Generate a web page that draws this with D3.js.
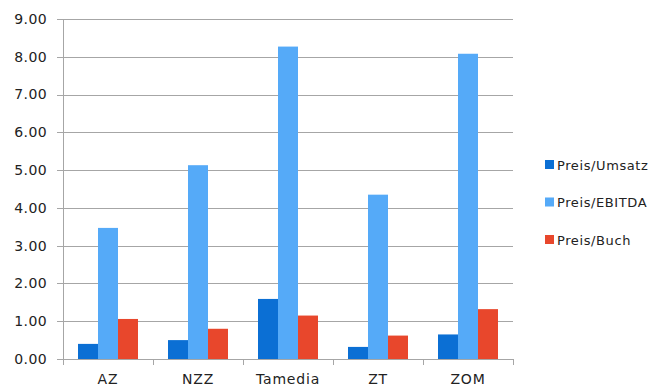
<!DOCTYPE html>
<html>
<head>
<meta charset="utf-8">
<script src="https://cdn.jsdelivr.net/npm/d3@7"></script>
<style>
  body { margin: 0; background: #fff; }
  text { font-family: "DejaVu Sans", Verdana, sans-serif; fill: #222; }
</style>
</head>
<body>
<div id="chart"></div>
<script>
const categories = ['AZ', 'NZZ', 'Tamedia', 'ZT', 'ZOM'];
const seriesNames = ['Preis/Umsatz', 'Preis/EBITDA', 'Preis/Buch'];
const umsatz = [0.40, 0.50, 1.59, 0.32, 0.65];
const ebitda = [3.47, 5.13, 8.27, 4.35, 8.08];
const buch = [1.06, 0.80, 1.15, 0.62, 1.32];
const yTicks = [0, 1, 2, 3, 4, 5, 6, 7, 8, 9];
const colors = ['#0b6fd4', '#55aaf8', '#e8472c'];

const width = 661, height = 392;
const margin = {top: 19, right: 148, bottom: 33, left: 63};

let svg = d3.select('#chart').append('svg')
    .attr('width', width)
    .attr('height', height);

let x = d3.scaleBand()
    .domain(categories)
    .range([margin.left, width - margin.right]);

let xInner = d3.scaleBand()
    .domain(seriesNames)
    .range([0, x.bandwidth()])
    .paddingOuter(0.75);

let y = d3.scaleLinear()
    .domain([0, 9])
    .range([height - margin.bottom, margin.top]);

// gridlines
svg.append('g')
    .selectAll('line')
    .data(yTicks)
    .enter()
    .append('line')
    .attr('x1', margin.left - 6)
    .attr('x2', width - margin.right)
    .attr('y1', d => Math.round(y(d)) + 0.5)
    .attr('y2', d => Math.round(y(d)) + 0.5)
    .attr('stroke', '#a6a6a6');

// y labels
svg.append('g')
    .selectAll('text')
    .data(yTicks)
    .enter()
    .append('text')
    .attr('x', margin.left - 16)
    .attr('y', d => y(d))
    .attr('dy', '0.35em')
    .attr('text-anchor', 'end')
    .style('font-size', '14px')
    .style('letter-spacing', '0.4px')
    .text(d => d.toFixed(2));

// y axis line
svg.append('line')
    .attr('x1', margin.left + 0.5)
    .attr('x2', margin.left + 0.5)
    .attr('y1', y(9))
    .attr('y2', y(0) + 6)
    .attr('stroke', '#a6a6a6');

// x axis ticks
let xEdges = categories.map(c => x(c)).concat([x(categories[categories.length - 1]) + x.bandwidth()]);
svg.append('g')
    .selectAll('line')
    .data(xEdges)
    .enter()
    .append('line')
    .attr('x1', d => Math.round(d) + 0.5)
    .attr('x2', d => Math.round(d) + 0.5)
    .attr('y1', y(0))
    .attr('y2', y(0) + 6)
    .attr('stroke', '#a6a6a6');

// bars
const series = [umsatz, ebitda, buch];
series.forEach((vals, si) => {
    svg.append('g')
        .selectAll('rect')
        .data(vals)
        .enter()
        .append('rect')
        .attr('x', (d, i) => x(categories[i]) + xInner(seriesNames[si]))
        .attr('width', xInner.bandwidth())
        .attr('y', d => y(d))
        .attr('height', d => y(0) - y(d))
        .attr('fill', colors[si]);
});

// x labels
svg.append('g')
    .selectAll('text')
    .data(categories)
    .enter()
    .append('text')
    .attr('x', d => x(d) + x.bandwidth() / 2)
    .attr('y', height - 8)
    .attr('text-anchor', 'middle')
    .style('font-size', '14px')
    .style('letter-spacing', '0.8px')
    .text(d => d);

// legend
let legend = svg.append('g')
    .selectAll('g')
    .data(seriesNames)
    .enter()
    .append('g')
    .attr('transform', (d, i) => `translate(545, ${165 + i * 37.5})`);

legend.append('rect')
    .attr('x', 0)
    .attr('y', -5)
    .attr('width', 9)
    .attr('height', 9)
    .attr('fill', (d, i) => colors[i]);

legend.append('text')
    .attr('x', 12)
    .attr('y', 0)
    .attr('dy', '0.35em')
    .style('font-size', '13px')
    .style('letter-spacing', '0.6px')
    .text(d => d);
</script>
</body>
</html>
